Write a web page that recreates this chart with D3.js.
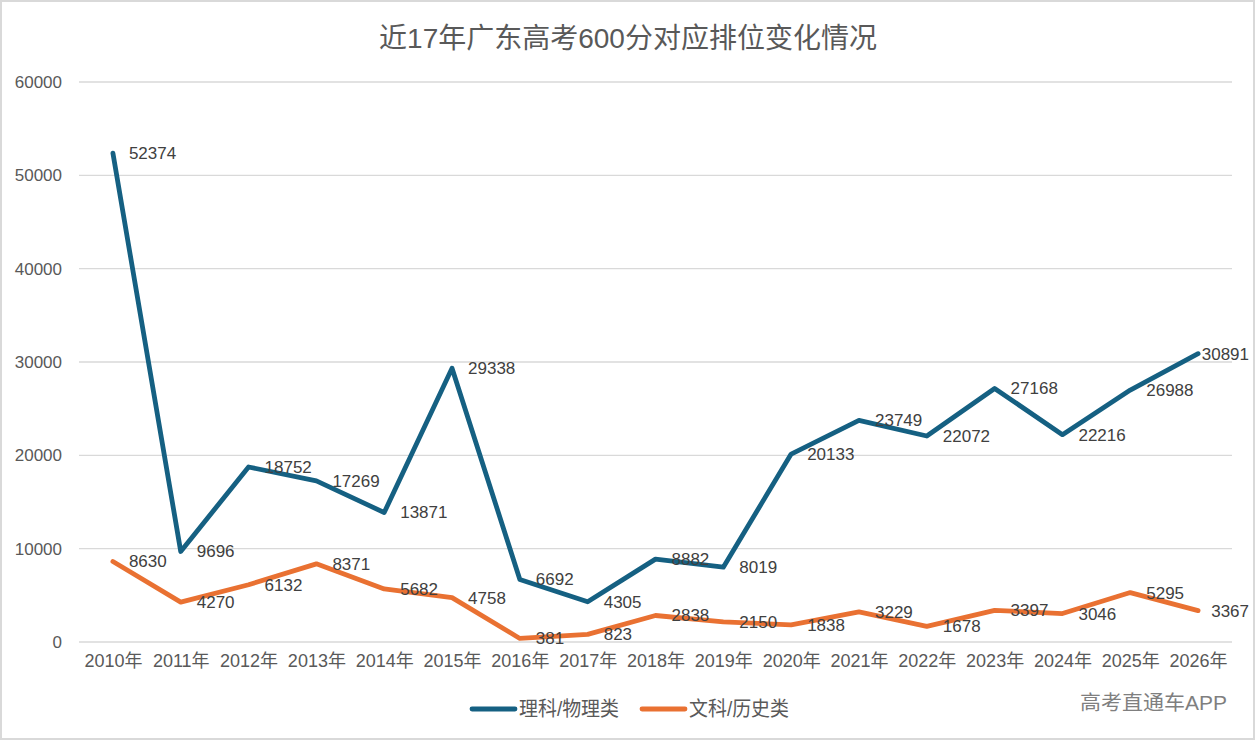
<!DOCTYPE html>
<html>
<head>
<meta charset="utf-8">
<script src="https://cdn.jsdelivr.net/npm/d3@7"></script>
<style>
  body { margin: 0; background: #fff; }
  text { font-family: "Liberation Sans", "Noto Sans CJK SC", sans-serif; }
</style>
</head>
<body>
<div id="chart"></div>
<script>
const years = ["2010年", "2011年", "2012年", "2013年", "2014年", "2015年", "2016年", "2017年", "2018年",
  "2019年", "2020年", "2021年", "2022年", "2023年", "2024年", "2025年", "2026年"];
const physicsRank = [52374, 9696, 18752, 17269, 13871, 29338, 6692, 4305, 8882, 8019, 20133, 23749, 22072, 27168, 22216, 26988, 30891];
const historyRank = [8630, 4270, 6132, 8371, 5682, 4758, 381, 823, 2838, 2150, 1838, 3229, 1678, 3397, 3046, 5295, 3367];
const yTicks = [0, 10000, 20000, 30000, 40000, 50000, 60000];
const seriesNames = ["理科/物理类", "文科/历史类"];
const colors = ["#156082", "#E97132"];

const W = 1256, H = 741;
const plotLeft = 79, plotRight = 1232, plotTop = 82, plotBottom = 642;

const svg = d3.select("#chart").append("svg")
  .attr("width", W)
  .attr("height", H);

svg.append("rect")
  .attr("x", 1).attr("y", 1)
  .attr("width", W - 3).attr("height", H - 3)
  .attr("fill", "#fff")
  .attr("stroke", "#d9d9d9")
  .attr("stroke-width", 2);

// title
svg.append("text")
  .attr("x", 628).attr("y", 48)
  .attr("text-anchor", "middle")
  .attr("font-size", 28)
  .attr("fill", "#595959")
  .text("近17年广东高考600分对应排位变化情况");

const x = d3.scalePoint()
  .domain(years)
  .range([plotLeft, plotRight])
  .padding(0.5);

const y = d3.scaleLinear()
  .domain([0, 60000])
  .range([plotBottom, plotTop]);

// gridlines
svg.append("g")
  .selectAll("line")
  .data(yTicks)
  .enter()
  .append("line")
  .attr("x1", plotLeft).attr("x2", plotRight)
  .attr("y1", d => y(d)).attr("y2", d => y(d))
  .attr("stroke", "#d9d9d9")
  .attr("stroke-width", 1.3);

// y axis labels
const yAxis = svg.append("g")
  .attr("transform", "translate(" + (plotLeft - 17) + ",0)")
  .call(d3.axisLeft(y).tickValues(yTicks).tickSize(0).tickPadding(0).tickFormat(d3.format("d")));
yAxis.select(".domain").remove();
yAxis.selectAll("text")
  .attr("font-size", 17)
  .attr("fill", "#595959")
  .style("font-family", "'Liberation Sans', 'Noto Sans CJK SC', sans-serif");

// x axis labels
const xAxis = svg.append("g")
  .attr("transform", "translate(0," + (plotBottom + 12) + ")")
  .call(d3.axisBottom(x).tickSize(0).tickPadding(0));
xAxis.select(".domain").remove();
xAxis.selectAll("text")
  .attr("font-size", 18)
  .attr("fill", "#595959")
  .style("font-family", "'Liberation Sans', 'Noto Sans CJK SC', sans-serif");

const line = d3.line()
  .x((d, i) => x(years[i]))
  .y(d => y(d));

[physicsRank, historyRank].forEach((values, k) => {
  svg.append("path")
    .datum(values)
    .attr("d", line)
    .attr("fill", "none")
    .attr("stroke", colors[k])
    .attr("stroke-width", 4.8)
    .attr("stroke-linejoin", "round")
    .attr("stroke-linecap", "round");

  svg.append("g")
    .selectAll("text")
    .data(values)
    .enter()
    .append("text")
    .attr("x", (d, i) => x(years[i]) + 16)
    .attr("y", d => y(d))
    .attr("dy", "0.35em")
    .attr("font-size", 17)
    .attr("fill", "#404040")
    .text(d => d)
    .each(function () {
      // keep labels inside the chart area, like Excel does
      const w = this.getComputedTextLength();
      const x0 = +this.getAttribute("x");
      if (x0 + w > W - 7) this.setAttribute("x", W - 7 - w);
    });
});

// legend
const legend = svg.append("g");
const legendX = [472, 642];
seriesNames.forEach((name, k) => {
  legend.append("line")
    .attr("x1", legendX[k]).attr("x2", legendX[k] + 43)
    .attr("y1", 709).attr("y2", 709)
    .attr("stroke", colors[k])
    .attr("stroke-width", 4.8)
    .attr("stroke-linecap", "round");
  legend.append("text")
    .attr("x", legendX[k] + 47).attr("y", 716)
    .attr("font-size", 20)
    .attr("fill", "#595959")
    .attr("textLength", 100)
    .attr("lengthAdjust", "spacingAndGlyphs")
    .text(name);
});

// watermark
svg.append("text")
  .attr("x", 1227).attr("y", 710)
  .attr("text-anchor", "end")
  .attr("font-size", 20)
  .attr("fill", "#7f7f7f")
  .attr("textLength", 147)
  .attr("lengthAdjust", "spacingAndGlyphs")
  .text("高考直通车APP");
</script>
</body>
</html>
